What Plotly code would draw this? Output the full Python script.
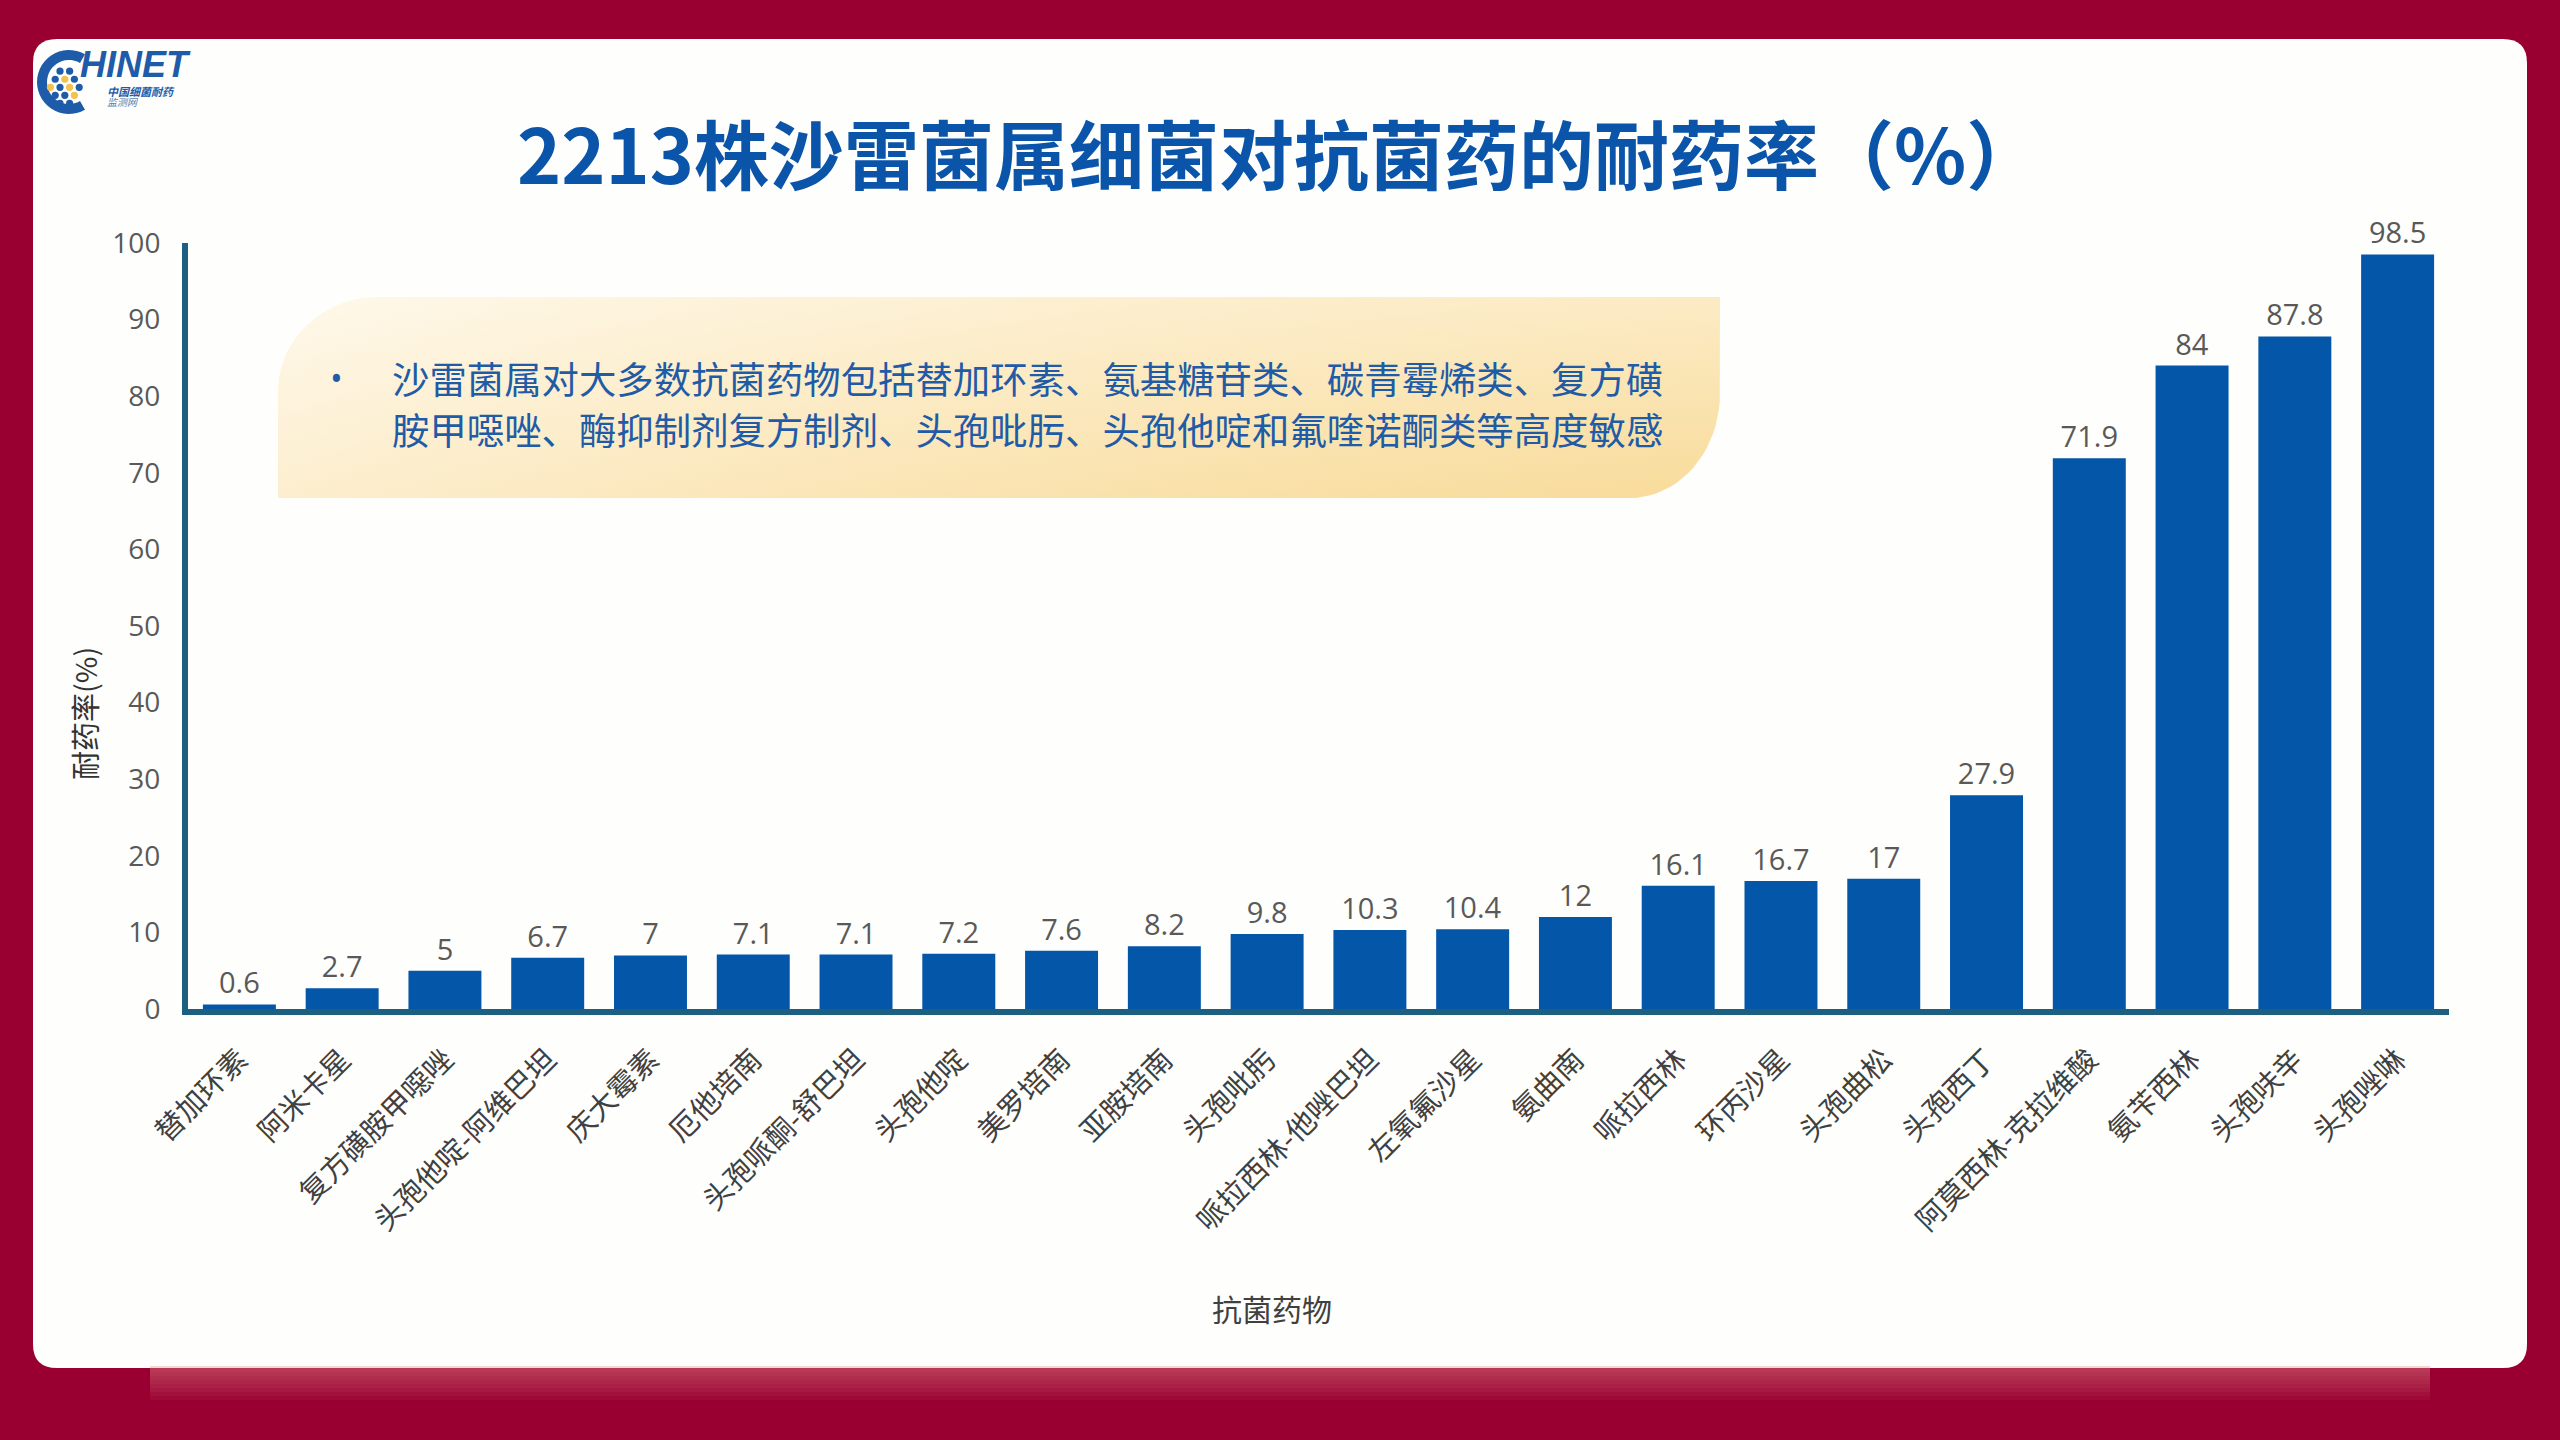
import math
import plotly.graph_objects as go

# resistance rate (%) of 2213 Serratia isolates
drugs = ["替加环素", "阿米卡星", "复方磺胺甲噁唑", "头孢他啶-阿维巴坦", "庆大霉素",
         "厄他培南", "头孢哌酮-舒巴坦", "头孢他啶", "美罗培南", "亚胺培南",
         "头孢吡肟", "哌拉西林-他唑巴坦", "左氧氟沙星", "氨曲南", "哌拉西林",
         "环丙沙星", "头孢曲松", "头孢西丁", "阿莫西林-克拉维酸", "氨苄西林",
         "头孢呋辛", "头孢唑啉"]
rates = [0.6, 2.7, 5, 6.7, 7, 7.1, 7.1, 7.2, 7.6, 8.2, 9.8, 10.3, 10.4, 12,
         16.1, 16.7, 17, 27.9, 71.9, 84, 87.8, 98.5]
y_ticks = [0, 10, 20, 30, 40, 50, 60, 70, 80, 90, 100]

title_text = "2213株沙雷菌属细菌对抗菌药的耐药率（%）"
note_lines = ["沙雷菌属对大多数抗菌药物包括替加环素、氨基糖苷类、碳青霉烯类、复方磺",
              "胺甲噁唑、酶抑制剂复方制剂、头孢吡肟、头孢他啶和氟喹诺酮类等高度敏感"]

W, H = 2560, 1440
L, R, T, B = 188, 111, 243, 431
PW, PH = W - L - R, H - T - B

BLUE = "#0356A8"
AXIS = "#1D5F80"
RED = "#990031"
CJK = "Noto Sans CJK SC"
NUM = "Open Sans, Noto Sans CJK SC"


def fx(x):
    return (x - L) / PW


def fy(y):
    return (H - B - y) / PH


def rounded_rect(x0, y0, x1, y1, r):
    return (f"M {fx(x0 + r)},{fy(y0)} L {fx(x1 - r)},{fy(y0)} "
            f"Q {fx(x1)},{fy(y0)} {fx(x1)},{fy(y0 + r)} L {fx(x1)},{fy(y1 - r)} "
            f"Q {fx(x1)},{fy(y1)} {fx(x1 - r)},{fy(y1)} L {fx(x0 + r)},{fy(y1)} "
            f"Q {fx(x0)},{fy(y1)} {fx(x0)},{fy(y1 - r)} L {fx(x0)},{fy(y0 + r)} "
            f"Q {fx(x0)},{fy(y0)} {fx(x0 + r)},{fy(y0)} Z")


def callout_outline(x0, y0, x1, y1):
    xs, ys = [], []
    # top-left big round corner
    cx, cy, rx, ry = x0 + 100, y0 + 95, 100, 95
    for i in range(21):
        a = math.radians(180 + 90 * i / 20)
        xs.append(cx + rx * math.cos(a))
        ys.append(cy + ry * math.sin(a))
    xs.append(x1); ys.append(y0)
    # bottom-right big round corner
    cx, cy, rx, ry = x1 - 90, y1 - 105, 90, 105
    for i in range(21):
        a = math.radians(90 * i / 20)
        xs.append(cx + rx * math.cos(a))
        ys.append(cy + ry * math.sin(a))
    xs.append(x0); ys.append(y1)
    xs.append(xs[0]); ys.append(ys[0])
    return [fx(v) for v in xs], [fy(v) for v in ys]


fig = go.Figure()

fig.add_trace(go.Bar(
    x=drugs, y=rates, marker_color=BLUE, marker_line_width=0,
    text=rates, texttemplate="%{y}", textposition="outside",
    textfont=dict(family=NUM, size=29, color="#595959"),
    cliponaxis=False, hoverinfo="skip",
))

# callout box with soft gold gradient
bx, by = callout_outline(278, 297, 1720, 498)
fig.add_trace(go.Scatter(
    x=bx, y=by, xaxis="x2", yaxis="y2", mode="lines", fill="toself",
    line=dict(width=0, color="rgba(0,0,0,0)"),
    fillgradient=dict(type="vertical", colorscale=[[0, "#F9DEA2"], [1, "#FEF6E3"]]),
    hoverinfo="skip", showlegend=False,
))
fig.add_trace(go.Scatter(
    x=bx, y=by, xaxis="x2", yaxis="y2", mode="lines", fill="toself",
    line=dict(width=0, color="rgba(0,0,0,0)"),
    fillgradient=dict(type="horizontal",
                      colorscale=[[0, "rgba(255,251,242,0.55)"], [1, "rgba(247,214,140,0.35)"]]),
    hoverinfo="skip", showlegend=False,
))

shapes = []
# white card
shapes.append(dict(type="path", xref="paper", yref="paper", layer="below",
                   path=rounded_rect(33, 39, 2527, 1368, 24),
                   fillcolor="#FEFEFC", line=dict(width=0)))
# soft shadow under the card
for i in range(8):
    shapes.append(dict(type="rect", xref="paper", yref="paper", layer="below",
                       x0=fx(150), x1=fx(2430), y0=fy(1366), y1=fy(1368 + 4 * (i + 1)),
                       fillcolor="rgba(240,150,160,0.06)", line=dict(width=0)))

# logo: crescent "C" and dots
cx, cy, ro, ri = 69, 82, 32, 22
outer = [(cx + ro * math.cos(math.radians(a)), cy + ro * math.sin(math.radians(a)))
         for a in range(300, 59, -8)]
inner = [(cx + ri * math.cos(math.radians(a)), cy + ri * math.sin(math.radians(a)))
         for a in range(60, 301, 8)]
pts = outer + inner
logo_path = "M " + " L ".join(f"{fx(px)},{fy(py)}" for px, py in pts) + " Z"
shapes.append(dict(type="path", xref="paper", yref="paper", path=logo_path,
                   fillcolor="#1E5BA8", line=dict(width=0)))
dots = [(-5, -12, "b"), (3, -12, "b"),
        (-9, -5, "b"), (-1, -5, "y"), (7, -5, "b"),
        (-13, 2, "y"), (-5, 2, "b"), (3, 2, "y"), (11, 2, "b"),
        (-9, 9, "b"), (-1, 9, "b"), (7, 9, "y"),
        (-5, 16, "b"), (3, 16, "b")]
for dx, dy, c in dots:
    r = 3.6
    px, py = 66 + dx * 1.2, 85 + dy * 1.15
    shapes.append(dict(type="circle", xref="paper", yref="paper",
                       x0=fx(px - r), x1=fx(px + r), y0=fy(py + r), y1=fy(py - r),
                       fillcolor="#1E5BA8" if c == "b" else "#F2C14E", line=dict(width=0)))

annotations = [
    dict(text=f"<b>{title_text}</b>", x=fx(1279), y=fy(151), xanchor="center", yanchor="middle",
         font=dict(family=CJK, size=75, color="#0A55A9")),
    dict(text="<b><i>HINET</i></b>", x=fx(78), y=fy(64), xanchor="left", yanchor="middle",
         font=dict(family="Liberation Sans", size=36, color="#1E5BA8")),
    dict(text="<b><i>中国细菌耐药</i></b>", x=fx(105), y=fy(91), xanchor="left", yanchor="middle",
         font=dict(family=CJK, size=11, color="#1E5BA8")),
    dict(text="<i>监测网</i>", x=fx(105), y=fy(102), xanchor="left", yanchor="middle",
         font=dict(family=CJK, size=10, color="#5A7FB0")),
    dict(text="•", x=fx(336), y=fy(378), xanchor="center", yanchor="middle",
         font=dict(family=NUM, size=34, color="#1F5BA6")),
    dict(text="抗菌药物", x=fx(1272), y=fy(1308), xanchor="center", yanchor="middle",
         font=dict(family=CJK, size=30, color="#404040")),
    dict(text="耐药率(%)", x=fx(84), y=fy(714), xanchor="center", yanchor="middle",
         textangle=-90, font=dict(family=CJK, size=29, color="#333333")),
]
for i, line in enumerate(note_lines):
    annotations.append(dict(text=line, x=fx(390), y=fy(378 + 51 * i), xanchor="left",
                            yanchor="middle", font=dict(family=CJK, size=37.4, color="#1F5BA6")))
for a in annotations:
    a.update(xref="paper", yref="paper", showarrow=False)

fig.update_layout(
    width=W, height=H, margin=dict(l=L, r=R, t=T, b=B, autoexpand=False),
    paper_bgcolor=RED, plot_bgcolor="rgba(0,0,0,0)",
    showlegend=False, bargap=0.29, shapes=shapes, annotations=annotations,
    xaxis=dict(range=[-0.5, len(drugs) - 0.5], showline=True, linecolor=AXIS, linewidth=6,
               showgrid=False, zeroline=False, tickangle=-45, ticks="outside", ticklen=16,
               tickcolor="rgba(0,0,0,0)",
               tickfont=dict(family=CJK, size=29, color="#404040")),
    yaxis=dict(range=[0, 100], tickvals=y_ticks, showline=True, linecolor=AXIS, linewidth=6,
               showgrid=False, zeroline=False, ticks="outside", ticklen=16,
               tickcolor="rgba(0,0,0,0)",
               tickfont=dict(family=NUM, size=28, color="#595959")),
    xaxis2=dict(overlaying="x", range=[0, 1], visible=False, fixedrange=True),
    yaxis2=dict(overlaying="y", range=[0, 1], visible=False, fixedrange=True),
)

# drop the default page margin so the figure sits flush in the window
fig.write_html("out.html", config={"displayModeBar": False},
               post_script="document.body.style.margin='0';document.body.style.background='#990031';")
